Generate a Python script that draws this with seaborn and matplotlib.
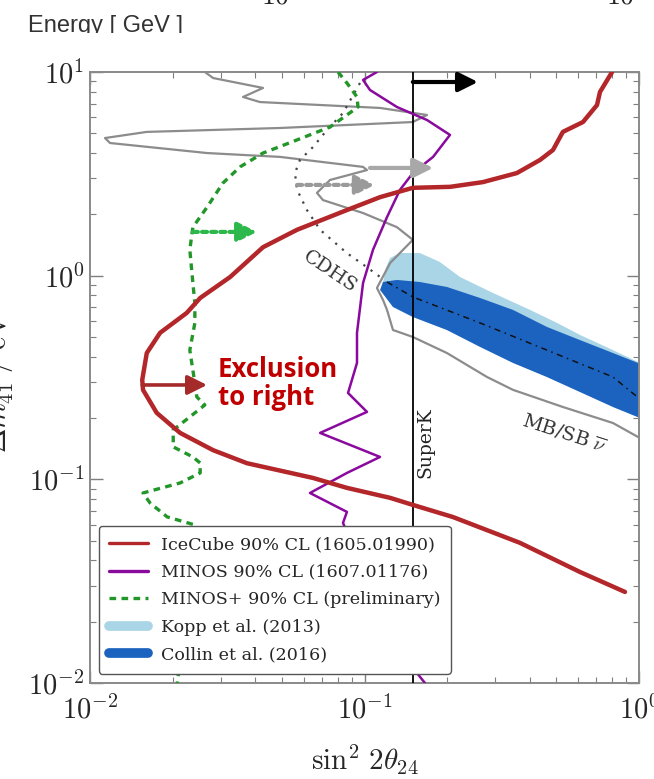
import numpy as np
import matplotlib
matplotlib.use('Agg')
import matplotlib.pyplot as plt
from matplotlib.lines import Line2D
from matplotlib.patches import Rectangle
from matplotlib.ticker import FuncFormatter
import seaborn as sns

# IceCube 90% CL contour  (sin^2 2theta_24 , dm^2_41 [eV^2])
icecube_s2 = [0.798, 0.721, 0.703, 0.625, 0.528, 0.486, 0.436, 0.359, 0.270, 0.205,
              0.150, 0.114, 0.0863, 0.0568, 0.0427, 0.0324, 0.0252, 0.0225, 0.0180, 0.0161,
              0.0155, 0.0156, 0.0175, 0.0213, 0.0281, 0.0373, 0.0649, 0.0863, 0.124, 0.150,
              0.210, 0.368, 0.609, 0.889]
icecube_dm2 = [10.0, 7.98, 6.88, 5.68, 5.08, 4.14, 3.70, 3.19, 2.88, 2.73,
               2.70, 2.43, 2.10, 1.68, 1.38, 0.985, 0.777, 0.656, 0.524, 0.417,
               0.308, 0.275, 0.212, 0.169, 0.139, 0.120, 0.1016, 0.0908, 0.0811, 0.0749,
               0.0653, 0.0488, 0.0351, 0.0280]

# MINOS 90% CL
minos_s2 = [0.111, 0.0988, 0.1047, 0.1313, 0.169, 0.2048, 0.1778, 0.150, 0.1347, 0.1208,
            0.1074, 0.0988, 0.0939, 0.0939, 0.0871, 0.1021, 0.0689, 0.1139, 0.0863, 0.0633,
            0.0863, 0.0835, 0.1004, 0.129, 0.150, 0.166]
minos_dm2 = [10.0, 9.14, 8.16, 6.73, 5.81, 4.91, 3.83, 3.19, 2.64, 1.94,
             1.34, 0.921, 0.524, 0.373, 0.2655, 0.2143, 0.169, 0.1288, 0.1075, 0.0857,
             0.0692, 0.0611, 0.0340, 0.0182, 0.01186, 0.0100]

# MINOS+ 90% CL (preliminary)
mplus_s2 = [0.0801, 0.0863, 0.0939, 0.0947, 0.0749, 0.0568, 0.0427, 0.0352, 0.0305, 0.0267,
            0.0237, 0.0231, 0.0237, 0.0241, 0.0241, 0.0231, 0.0237, 0.0245, 0.0262, 0.0231,
            0.0201, 0.0201, 0.0237, 0.0252, 0.0252, 0.0213, 0.0156, 0.01654, 0.0191, 0.0241,
            0.0252, 0.0222, 0.0208]
mplus_dm2 = [10.0, 8.83, 7.54, 6.73, 5.37, 4.64, 4.00, 3.42, 2.85, 2.17,
             1.73, 1.34, 0.921, 0.734, 0.586, 0.431, 0.344, 0.2538, 0.2318, 0.2025,
             0.1748, 0.1443, 0.1288, 0.1203, 0.1075, 0.0960, 0.0857, 0.0766, 0.0654, 0.0597,
             0.0402, 0.0204, 0.0100]

# MiniBooNE / SciBooNE antineutrino contour
mbsb_s2 = [0.0262, 0.0281, 0.0427, 0.0361, 0.0416, 0.114, 0.169, 0.150, 0.0492, 0.0161,
           0.01134, 0.01183, 0.0267, 0.0492, 0.0988, 0.1021, 0.0749, 0.0671, 0.0706, 0.0988,
           0.1313, 0.150, 0.124, 0.111, 0.1168, 0.1208, 0.127, 0.150, 0.1997, 0.2795,
           0.3475, 0.528, 0.804, 0.992]
mbsb_dm2 = [10.0, 9.34, 8.35, 7.54, 7.12, 6.66, 6.15, 5.68, 5.31, 5.08,
            4.74, 4.48, 4.00, 3.83, 3.42, 3.30, 2.95, 2.55, 2.35, 2.03,
            1.73, 1.50, 1.154, 0.870, 0.760, 0.679, 0.541, 0.500, 0.417, 0.318,
            0.275, 0.2266, 0.189, 0.1614]

# CDHS
cdhs_s2 = [0.0963, 0.0835, 0.0730, 0.0649, 0.0582, 0.0558, 0.0568, 0.0617, 0.0689, 0.0863, 0.1021, 0.114]
cdhs_dm2 = [8.83, 6.29, 5.19, 4.28, 3.70, 3.19, 2.64, 2.10, 1.68, 1.29, 1.10, 0.985]

# global fit best-fit line
bestfit_s2 = [0.1208, 0.150, 0.2636, 0.462, 0.804, 1.0]
bestfit_dm2 = [0.931, 0.786, 0.586, 0.431, 0.318, 0.250]

# Kopp et al. (2013) upper edge
kopp_s2 = [0.1168, 0.1197, 0.124, 0.1347, 0.159, 0.188, 0.2228, 0.2938, 0.401, 0.503, 0.609, 0.804, 1.0]
kopp_dm2 = [0.931, 1.091, 1.222, 1.292, 1.292, 1.168, 0.985, 0.822, 0.679, 0.586, 0.512, 0.431, 0.375]

# Collin et al. (2016) band
collin_hi_s2 = [0.1168, 0.1313, 0.159, 0.1997, 0.2636, 0.3475, 0.462, 0.609, 0.804, 1.0]
collin_hi_dm2 = [0.931, 0.953, 0.931, 0.880, 0.777, 0.679, 0.560, 0.483, 0.417, 0.371]
collin_lo_s2 = [0.114, 0.127, 0.150, 0.1997, 0.2636, 0.3475, 0.462, 0.609, 0.804, 1.0]
collin_lo_dm2 = [0.851, 0.702, 0.627, 0.541, 0.447, 0.373, 0.318, 0.2686, 0.2266, 0.2010]

superk_s2 = 0.150

# arrows: (x_start, x_end, y)
superk_arrow = (0.150, 0.259, 8.93)
mbsb_arrow = (0.1047, 0.1778, 3.38)
cdhs_arrow = (0.0568, 0.109, 2.79)
mplus_arrow = (0.0237, 0.0406, 1.64)
icecube_arrow = (0.0155, 0.0267, 0.2906)

legend_labels = ['IceCube 90% CL (1605.01990)', 'MINOS 90% CL (1607.01176)',
                 'MINOS+ 90% CL (preliminary)', 'Kopp et al. (2013)', 'Collin et al. (2016)']

c_ice = '#b3262a'
c_minos = '#8a0a9e'
c_mplus = '#23962a'
c_kopp = '#a9d5e6'
c_collin = '#1c63c0'
c_gray = '#8c8c8c'

sns.set_style('ticks')
plt.rcParams['mathtext.fontset'] = 'cm'
plt.rcParams['font.family'] = ['DejaVu Serif']

fig = plt.figure(figsize=(6.54, 7.79), dpi=100)
ax = fig.add_axes([90/654, 1-683/779, 549/654, 611/779])
ax.set_xscale('log')
ax.set_yscale('log')
ax.set_xlim(1e-2, 1)
ax.set_ylim(1e-2, 10)

# bands
ax.fill(kopp_s2 + collin_lo_s2[::-1], kopp_dm2 + collin_lo_dm2[::-1], color=c_kopp, lw=0, zorder=1)
ax.fill(collin_hi_s2 + collin_lo_s2[::-1], collin_hi_dm2 + collin_lo_dm2[::-1], color=c_collin, lw=0, zorder=2)
sns.lineplot(x=bestfit_s2, y=bestfit_dm2, sort=False, estimator=None, ax=ax,
             color='#111111', lw=1.1, linestyle=(0, (4, 3, 1, 3)), zorder=3)

sns.lineplot(x=mbsb_s2, y=mbsb_dm2, sort=False, estimator=None, ax=ax, color=c_gray, lw=1.6, zorder=3)
sns.lineplot(x=cdhs_s2, y=cdhs_dm2, sort=False, estimator=None, ax=ax,
             color='#444444', lw=1.6, linestyle=(0, (1, 3)), zorder=3)
ax.axvline(superk_s2, color='black', lw=1.3, zorder=3)

sns.lineplot(x=mplus_s2, y=mplus_dm2, sort=False, estimator=None, ax=ax,
             color=c_mplus, lw=2.4, linestyle=(0, (2, 1.6)), zorder=4)
sns.lineplot(x=minos_s2, y=minos_dm2, sort=False, estimator=None, ax=ax, color=c_minos, lw=1.8, zorder=4)
sns.lineplot(x=icecube_s2, y=icecube_dm2, sort=False, estimator=None, ax=ax, color=c_ice, lw=3.2, zorder=5)

def arrow(spec, color, ls='-', lw=3.0, scale=13):
    x0, x1, y = spec
    ax.annotate('', xy=(x1, y), xytext=(x0, y),
                arrowprops=dict(arrowstyle='-|>,head_length=0.9,head_width=0.45', color=color,
                                lw=lw, ls=ls, shrinkA=0, shrinkB=0, mutation_scale=scale),
                zorder=6)

arrow(superk_arrow, 'black')
arrow(mbsb_arrow, '#a8a8a8')
arrow(cdhs_arrow, '#9a9a9a', ls=(0, (1.2, 1.0)))
arrow(mplus_arrow, '#2cb84a', ls=(0, (1.2, 1.0)))
arrow(icecube_arrow, '#a52a2a', lw=2.6)

# labels in the plot
ax.text(0.0292, 0.2950, 'Exclusion\nto right', color='#c00000', fontsize=18.5, fontweight='bold',
        family=['Open Sans', 'DejaVu Sans'], va='center', ha='left', linespacing=1.05, zorder=7)
ax.text(0.0749, 1.04, 'CDHS', rotation=-34, fontsize=14, color='#333333',
        ha='center', va='center', rotation_mode='anchor')
ax.text(0.166, 0.151, 'SuperK', rotation=90, fontsize=13.5, color='#222222',
        ha='center', va='center')
ax.text(0.533, 0.169, r'MB/SB $\overline{\nu}$', rotation=-18, fontsize=14, color='#333333',
        ha='center', va='center', rotation_mode='anchor')

# axes styling
fmt = FuncFormatter(lambda v, p: r'$10^{%d}$' % int(round(np.log10(v))))
ax.xaxis.set_major_formatter(fmt)
ax.yaxis.set_major_formatter(fmt)
ax.tick_params(which='both', direction='in', top=True, right=True, color='#7f7f7f', labelsize=20.5)
ax.tick_params(which='major', length=9, width=1.0)
ax.tick_params(which='minor', length=4.5, width=0.8)
ax.tick_params(axis='x', which='major', pad=9)
ax.tick_params(axis='y', which='major', pad=4)
for s in ax.spines.values():
    s.set_color('#8a8a8a')
    s.set_linewidth(1.4)
ax.set_xlabel(r'$\sin^2\,2\theta_{24}$', fontsize=21, labelpad=13)
ax.set_ylabel(r'$\Delta m^2_{41}\ /\ \mathrm{eV}^2$', fontsize=21)
ax.yaxis.set_label_coords(-0.135, 0.5)

handles = [Line2D([], [], color=c_ice, lw=2.4),
           Line2D([], [], color=c_minos, lw=2.4),
           Line2D([], [], color=c_mplus, lw=2.4, linestyle=(0, (2, 1.6))),
           Line2D([], [], color=c_kopp, lw=7),
           Line2D([], [], color=c_collin, lw=7)]
leg = ax.legend(handles, legend_labels, loc='lower left', bbox_to_anchor=(0.016, 0.015),
                borderaxespad=0, fontsize=12.6, handlelength=2.2, handletextpad=0.75,
                labelspacing=0.6, borderpad=0.6, fancybox=True, framealpha=1, edgecolor='#555555')
leg.set_zorder(10)

# remnants of the panel above
fig.text(28/654, 1-32/779, 'Energy [ GeV ]', family='Liberation Sans', fontsize=17,
         color='#333333', va='baseline')
fig.patches.append(Rectangle((0, 1-48/779), 0.45, 15/779, transform=fig.transFigure,
                             facecolor='white', edgecolor='none', zorder=5))
fig.text(275/654, 1-3/779, r'$10$', fontsize=20, ha='center', va='baseline')
fig.text(620/654, 1-3/779, r'$10$', fontsize=20, ha='center', va='baseline')

fig.savefig('out.png', dpi=100)
